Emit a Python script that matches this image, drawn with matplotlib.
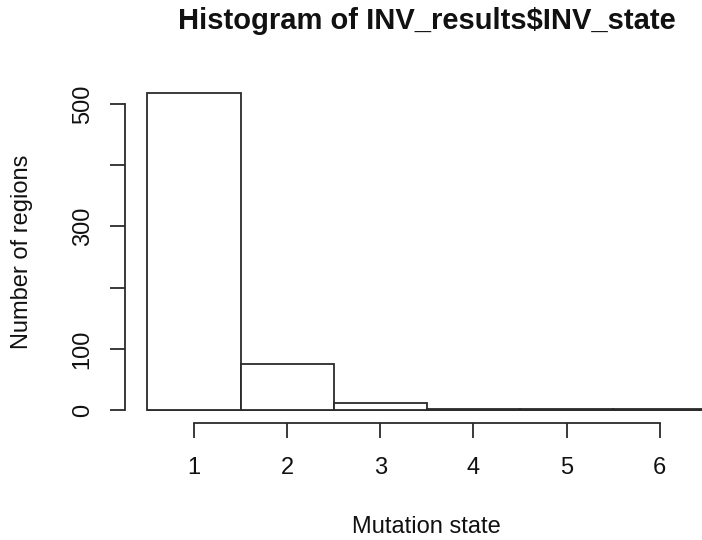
import matplotlib
matplotlib.use("Agg")
import matplotlib.pyplot as plt

# histogram counts
mutation_state = [1, 2, 3, 4, 5, 6]
n_regions = [518, 75, 11, 1, 1, 1]
y_ticks = [0, 100, 200, 300, 400, 500]
y_tick_labels = ["0", "100", "", "300", "", "500"]

plt.rcParams["font.family"] = ["Liberation Sans", "DejaVu Sans"]

W, H = 702, 540
line_col = "#2b2b2b"

fig = plt.figure(figsize=(W / 100, H / 100), dpi=100)
# plot region in pixels: x 125..728.6 (cropped at right), y 80.3..422.7
ax = fig.add_axes([125 / W, (H - 422.7) / H, (728.6 - 125) / W, (422.7 - 80.3) / H])

xmin, xmax = 0.26, 6.74
ax.bar(mutation_state, n_regions, width=1.0, color="white",
       edgecolor=line_col, linewidth=1.3, zorder=2)
# baseline runs on past the last bin to the cropped edge
ax.hlines(0, min(mutation_state) - 0.5, xmax, color=line_col, linewidth=1.3, zorder=1)

ax.set_xlim(xmin, xmax)
ax.set_ylim(-20.72, 538.72)

for s in ["top", "right"]:
    ax.spines[s].set_visible(False)
ax.spines["left"].set_bounds(0, 500)
ax.spines["bottom"].set_bounds(1, 6)
for s in ["left", "bottom"]:
    ax.spines[s].set_color(line_col)
    ax.spines[s].set_linewidth(1.3)

ax.set_xticks(mutation_state)
ax.set_xticklabels([str(v) for v in mutation_state])
ax.set_yticks(y_ticks)
ax.set_yticklabels(y_tick_labels, rotation=90, va="center")
ax.tick_params(axis="both", length=10.5, width=1.3, color=line_col,
               labelsize=17, labelcolor="#111111")
ax.tick_params(axis="x", pad=14)
ax.tick_params(axis="y", pad=12)

fig.text(426.8 / W, 1 - 21 / H, "Histogram of INV_results$INV_state",
         ha="center", va="center", fontsize=21, fontweight="bold", color="#111111")
fig.text(426.8 / W, 1 - 527 / H, "Mutation state",
         ha="center", va="center", fontsize=17, color="#111111")
fig.text(22 / W, 1 - 251.5 / H, "Number of regions", rotation=90,
         ha="center", va="center", fontsize=17, color="#111111")

fig.savefig("out.png", dpi=100)
